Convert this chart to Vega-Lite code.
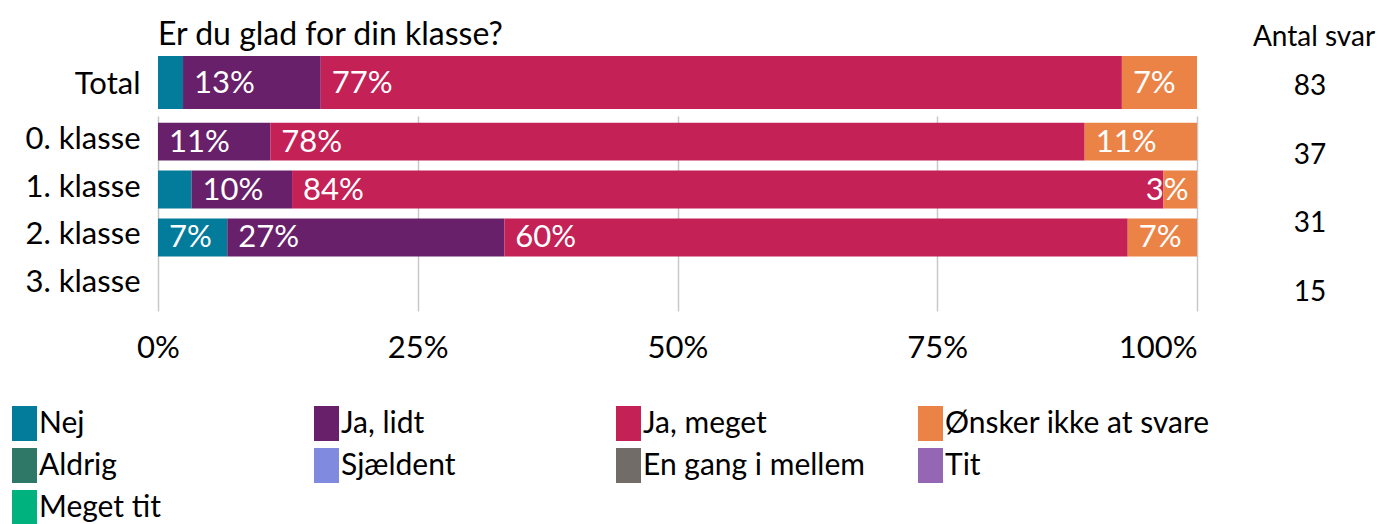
{
  "$schema": "https://vega.github.io/schema/vega-lite/v6.json",
  "padding": {"left": 2, "top": 19, "right": 5, "bottom": 0},
  "background": "white",
  "config": {
    "font": "Lato",
    "view": {"stroke": null},
    "title": {"fontWeight": "normal", "color": "#000000"},
    "axis": {"labelColor": "#000000", "labelFont": "Lato"},
    "legend": {"labelFont": "Lato", "labelColor": "#000000"}
  },
  "datasets": {
    "svar": [
      {"gruppe": "Total", "svar": "Nej", "antal": 2},
      {"gruppe": "Total", "svar": "Ja, lidt", "antal": 11},
      {"gruppe": "Total", "svar": "Ja, meget", "antal": 64},
      {"gruppe": "Total", "svar": "Ønsker ikke at svare", "antal": 6},
      {"gruppe": "0. klasse", "svar": "Ja, lidt", "antal": 4},
      {"gruppe": "0. klasse", "svar": "Ja, meget", "antal": 29},
      {"gruppe": "0. klasse", "svar": "Ønsker ikke at svare", "antal": 4},
      {"gruppe": "1. klasse", "svar": "Nej", "antal": 1},
      {"gruppe": "1. klasse", "svar": "Ja, lidt", "antal": 3},
      {"gruppe": "1. klasse", "svar": "Ja, meget", "antal": 26},
      {"gruppe": "1. klasse", "svar": "Ønsker ikke at svare", "antal": 1},
      {"gruppe": "2. klasse", "svar": "Nej", "antal": 1},
      {"gruppe": "2. klasse", "svar": "Ja, lidt", "antal": 4},
      {"gruppe": "2. klasse", "svar": "Ja, meget", "antal": 9},
      {"gruppe": "2. klasse", "svar": "Ønsker ikke at svare", "antal": 1}
    ],
    "antal": [
      {"gruppe": "Total", "n": 83},
      {"gruppe": "0. klasse", "n": 37},
      {"gruppe": "1. klasse", "n": 31},
      {"gruppe": "2. klasse", "n": 15}
    ]
  },
  "hconcat": [
    {
      "data": {"name": "svar"},
      "transform": [
        {"calculate": "indexof(['Nej','Ja, lidt','Ja, meget','Ønsker ikke at svare'], datum.svar)", "as": "rang"},
        {"joinaggregate": [{"op": "sum", "field": "antal", "as": "total"}], "groupby": ["gruppe"]},
        {"window": [{"op": "sum", "field": "antal", "as": "cum"}], "sort": [{"field": "rang"}], "groupby": ["gruppe"], "frame": [null, 0]},
        {"calculate": "(datum.cum - datum.antal) / datum.total", "as": "start"},
        {"calculate": "datum.cum / datum.total", "as": "slut"},
        {"calculate": "datum.antal / datum.total", "as": "andel"},
        {"calculate": "min(datum.start, 0.94)", "as": "labelpos"}
      ],
      "spacing": 7,
      "vconcat": [
        {
          "width": 1039,
          "height": 53,
          "title": {"text": "Er du glad for din klasse?", "anchor": "start", "frame": "group", "fontSize": 32, "offset": 4},
          "transform": [{"filter": "datum.gruppe == 'Total'"}],
          "encoding": {
            "y": {"field": "gruppe", "type": "nominal", "scale": {"paddingInner": 0, "paddingOuter": 0},
                  "axis": {"title": null, "ticks": false, "domain": false, "labelFontSize": 31, "labelPadding": 18, "labelOffset": 2}}
          },
          "layer": [
            {
              "mark": {"type": "bar"},
              "encoding": {
                "x": {"field": "start", "type": "quantitative", "scale": {"domain": [0, 1]}, "axis": null},
                "x2": {"field": "slut"},
                "color": {"field": "svar", "type": "nominal", "title": null,
                  "scale": {
                    "domain": ["Nej", "Ja, lidt", "Ja, meget", "Ønsker ikke at svare", "Aldrig", "Sjældent", "En gang i mellem", "Tit", "Meget tit"],
                    "range": ["#037b9b", "#69206a", "#c42156", "#eb8347", "#2f7868", "#808be0", "#716c67", "#9466b3", "#00b37e"]
                  },
                  "legend": {
                    "orient": "none", "legendX": -156, "legendY": 350, "direction": "horizontal", "columns": 4, "gridAlign": "all",
                    "symbolType": "M-0.43,-1H1V1H-0.43Z", "symbolSize": 1225, "symbolStrokeWidth": 0,
                    "labelFontSize": 30, "labelOffset": 2, "labelLimit": 500, "columnPadding": -3, "rowPadding": 7
                  }
                }
              }
            },
            {
              "transform": [{"filter": "datum.andel >= 0.05 || datum.rang == 3"}],
              "mark": {"type": "text", "align": "left", "baseline": "middle", "dx": 11, "dy": 1, "fontSize": 31, "color": "white"},
              "encoding": {
                "x": {"field": "labelpos", "type": "quantitative"},
                "text": {"field": "andel", "type": "quantitative", "format": ".0%"}
              }
            }
          ]
        },
        {
          "width": 1039,
          "height": 195,
          "transform": [{"filter": "datum.gruppe != 'Total'"}],
          "encoding": {
            "y": {"field": "gruppe", "type": "nominal",
                  "scale": {"domain": ["0. klasse", "1. klasse", "2. klasse", "3. klasse"], "paddingInner": 0.21, "paddingOuter": 0.14},
                  "axis": {"title": null, "ticks": false, "domain": false, "labelFontSize": 31, "labelPadding": 18, "labelOffset": -2}}
          },
          "layer": [
            {
              "mark": {"type": "bar"},
              "encoding": {
                "x": {"field": "start", "type": "quantitative", "scale": {"domain": [0, 1]},
                      "axis": {"title": null, "values": [0, 0.25, 0.5, 0.75, 1], "format": ".0%", "ticks": false, "domain": false,
                               "grid": true, "gridColor": "#c8c8c8", "gridWidth": 1.5, "labelFontSize": 31, "labelPadding": 22,
                               "labelAlign": {"condition": {"test": "datum.value == 1", "value": "right"}, "value": "center"}}},
                "x2": {"field": "slut"},
                "color": {"field": "svar", "type": "nominal"}
              }
            },
            {
              "transform": [{"filter": "datum.andel >= 0.05 || datum.rang == 3"}],
              "mark": {"type": "text", "align": "left", "baseline": "middle", "dx": 11, "dy": 1, "fontSize": 31, "color": "white"},
              "encoding": {
                "x": {"field": "labelpos", "type": "quantitative"},
                "text": {"field": "andel", "type": "quantitative", "format": ".0%"}
              }
            }
          ]
        }
      ]
    },
    {
      "width": 150,
      "height": 268,
      "title": {"text": "Antal svar", "fontSize": 28, "anchor": "middle", "offset": 4, "dx": 4},
      "data": {"name": "antal"},
      "mark": {"type": "text", "fontSize": 28, "baseline": "middle"},
      "encoding": {
        "y": {"field": "gruppe", "type": "nominal", "sort": null, "scale": {"type": "point", "padding": 0.45}, "axis": null},
        "text": {"field": "n", "type": "quantitative"}
      }
    }
  ],
  "spacing": 38
}
